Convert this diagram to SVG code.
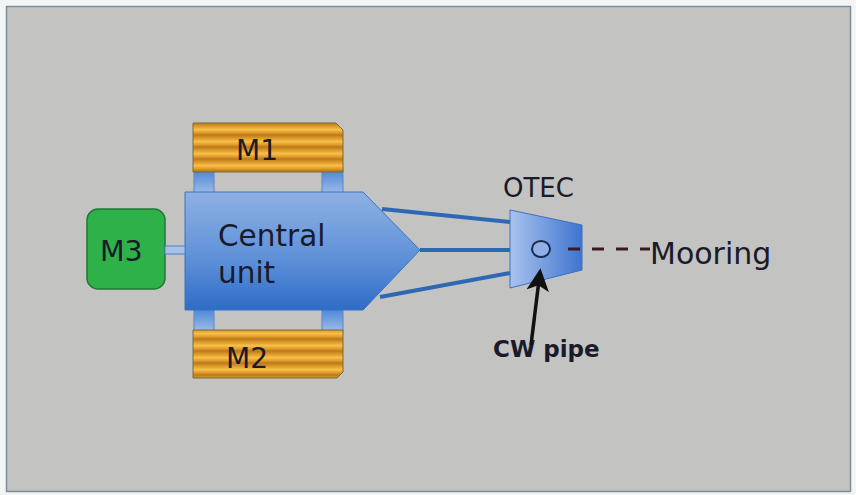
<svg xmlns="http://www.w3.org/2000/svg" width="856" height="495" viewBox="0 0 856 495">
<defs>
<linearGradient id="blueV" x1="0" y1="0" x2="0" y2="1">
<stop offset="0" stop-color="#8fb1e3"/>
<stop offset="0.6" stop-color="#5b8ed8"/>
<stop offset="1" stop-color="#2e6cc6"/>
</linearGradient>
<linearGradient id="otecG" x1="0" y1="0" x2="1" y2="0">
<stop offset="0" stop-color="#a9c3ee"/>
<stop offset="1" stop-color="#3f74cf"/>
</linearGradient>
<linearGradient id="connG" x1="0" y1="0" x2="0" y2="1">
<stop offset="0" stop-color="#4d86d6"/>
<stop offset="1" stop-color="#9dbbe8"/>
</linearGradient>
<linearGradient id="stripeG" x1="0" y1="0" x2="0" y2="1">
<stop offset="0" stop-color="#b97a1e"/>
<stop offset="0.3" stop-color="#e29d2a"/>
<stop offset="0.55" stop-color="#f7c14a"/>
<stop offset="0.8" stop-color="#e29d2a"/>
<stop offset="1" stop-color="#b97a1e"/>
</linearGradient>
<pattern id="stripes" x="0" y="123" width="12" height="12" patternUnits="userSpaceOnUse">
<rect width="12" height="12" fill="url(#stripeG)"/>
</pattern>
<marker id="arr" viewBox="0 0 12 12" refX="10" refY="6" markerWidth="6.5" markerHeight="6.5" orient="auto">
<path d="M0,0 L12,6 L0,12 L3,6 z" fill="#111"/>
</marker>
<style>
.t{font-family:"DejaVu Sans","Liberation Sans",sans-serif;fill:#1a1a2a}
.mod{stroke:#7a6a3a;stroke-width:1}
.conn{fill:url(#connG);stroke:#5d86c4;stroke-width:1}
.link{stroke:#2d68b4;stroke-width:4;fill:none}
</style>
</defs>
<rect width="856" height="495" fill="#f3f4f4"/>
<rect x="6.5" y="6.5" width="844" height="485" fill="#c3c3c1" stroke="#7d8e9a" stroke-width="1.5"/>

<g id="m1">
<rect class="conn" x="194" y="170" width="20" height="23"/>
<rect class="conn" x="322" y="170" width="21" height="23"/>
<path class="mod" d="M193,123 H336 L343,130 V172 H193 Z" fill="url(#stripes)"/>
<text class="t" x="236" y="160" font-size="28">M1</text>
</g>

<g id="m2">
<rect class="conn" x="194" y="309" width="20" height="22"/>
<rect class="conn" x="322" y="309" width="21" height="22"/>
<path class="mod" d="M193,330 H343 V372 L337,378 H193 Z" fill="url(#stripes)"/>
<text class="t" x="226" y="368" font-size="28">M2</text>
</g>

<g id="m3">
<rect x="87" y="209" width="78" height="80" rx="11" fill="#2fb14a" stroke="#1f7a33" stroke-width="1.5"/>
<text class="t" x="100" y="261" font-size="28.5">M3</text>
</g>

<g id="central">
<path d="M185,192 H363 L420,250 L363,310 H185 Z" fill="url(#blueV)" stroke="#3a70c4" stroke-width="1"/>
<text class="t" x="218" y="246" font-size="29.5">Central</text>
<text class="t" x="218" y="283" font-size="29.5">unit</text>
</g>

<g id="otec">
<path d="M510,210 L582,225 V270 L510,288 Z" fill="url(#otecG)" stroke="#3a70c4" stroke-width="1"/>
<ellipse cx="541" cy="249" rx="9" ry="8" fill="#8fb0e6" stroke="#1a2a50" stroke-width="2"/>
<text class="t" x="503" y="197" font-size="26">OTEC</text>
</g>

<g id="mooring">
<text class="t" x="650" y="264" font-size="30">Mooring</text>
</g>

<g id="cwpipe">
<text class="t" x="493" y="357" font-size="23" font-weight="bold" fill="#111">CW pipe</text>
</g>

<g id="connectors">
<line class="link" x1="382" y1="209" x2="510" y2="222"/>
<line class="link" x1="420" y1="250" x2="510" y2="250"/>
<line class="link" x1="380" y1="297" x2="510" y2="273"/>
<rect x="165" y="246" width="20" height="8" fill="#a9c1e8" stroke="#4d7fc9" stroke-width="1"/>
<line x1="568" y1="249" x2="650" y2="249" stroke="#3a1a22" stroke-width="3" stroke-dasharray="12,12"/>
<line x1="531" y1="345" x2="540" y2="272" stroke="#111" stroke-width="3.5" marker-end="url(#arr)"/>
</g>
</svg>
